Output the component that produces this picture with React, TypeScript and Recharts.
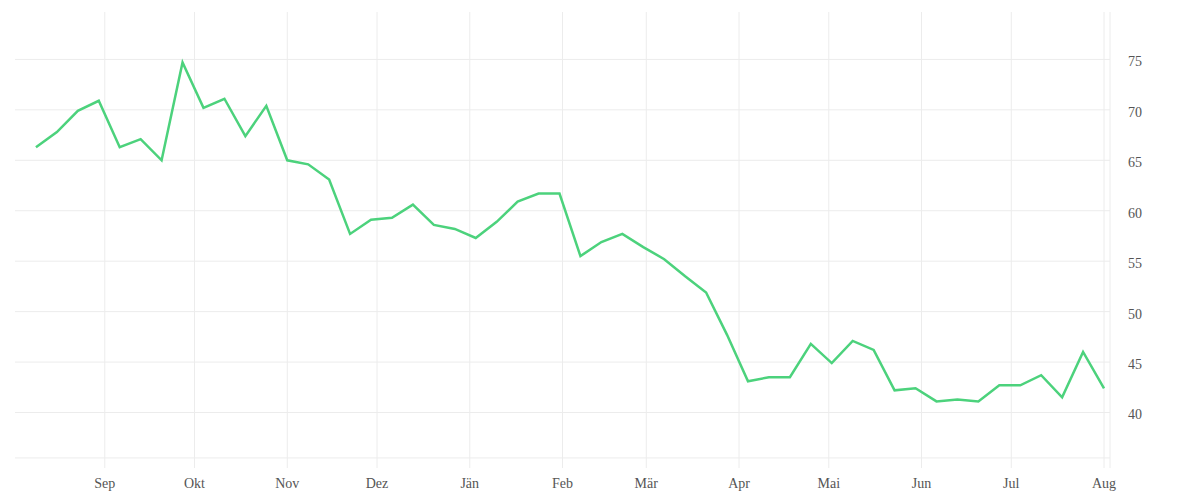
import React from "react";
import { LineChart, Line, XAxis, YAxis, CartesianGrid } from "recharts";

const weekDates = [
  "2022-08-09", "2022-08-16", "2022-08-23", "2022-08-30",
  "2022-09-06", "2022-09-13", "2022-09-20", "2022-09-27",
  "2022-10-04", "2022-10-11", "2022-10-18", "2022-10-25",
  "2022-11-01", "2022-11-08", "2022-11-15", "2022-11-22", "2022-11-29",
  "2022-12-06", "2022-12-13", "2022-12-20", "2022-12-27",
  "2023-01-03", "2023-01-10", "2023-01-17", "2023-01-24", "2023-01-31",
  "2023-02-07", "2023-02-14", "2023-02-21", "2023-02-28",
  "2023-03-07", "2023-03-14", "2023-03-21", "2023-03-28",
  "2023-04-04", "2023-04-11", "2023-04-18", "2023-04-25",
  "2023-05-02", "2023-05-09", "2023-05-16", "2023-05-23", "2023-05-30",
  "2023-06-06", "2023-06-13", "2023-06-20", "2023-06-27",
  "2023-07-04", "2023-07-11", "2023-07-18", "2023-07-25",
  "2023-08-01",
];

const seriesValues = [
  66.3, 67.8, 69.9, 70.9, 66.3, 67.1, 65.0, 74.7, 70.2, 71.1, 67.4, 70.4,
  65.0, 64.6, 63.1, 57.7, 59.1, 59.3, 60.6, 58.6, 58.2, 57.3, 58.9, 60.9,
  61.7, 61.7, 55.5, 56.9, 57.7, 56.4, 55.2, 53.5, 51.9, 47.7, 43.1, 43.5,
  43.5, 46.8, 44.9, 47.1, 46.2, 42.2, 42.4, 41.1, 41.3, 41.1, 42.7, 42.7,
  43.7, 41.5, 46.0, 42.4,
];

const monthTickDates = [
  "2022-09-01", "2022-10-01", "2022-11-01", "2022-12-01", "2023-01-01", "2023-02-01",
  "2023-03-01", "2023-04-01", "2023-05-01", "2023-06-01", "2023-07-01", "2023-08-01",
];
const monthLabels = ["Sep", "Okt", "Nov", "Dez", "Jän", "Feb", "Mär", "Apr", "Mai", "Jun", "Jul", "Aug"];

const yTicks = [40, 45, 50, 55, 60, 65, 70, 75];
const yDomain = [34.5, 79.7];
const xDomainDates = ["2022-08-02", "2023-08-03"];
const baselineValue = 35.5;

const toTime = (s: string) => Date.parse(s + "T00:00:00Z");

const data = weekDates.map((d, i) => ({ t: toTime(d), v: seriesValues[i] }));
const monthTicks = monthTickDates.map(toTime);
const xDomain = xDomainDates.map(toTime);
const gridYValues = [baselineValue, ...yTicks];

const formatMonth = (t: number) => {
  const idx = monthTicks.indexOf(t);
  return idx >= 0 ? monthLabels[idx] : "";
};

const gridColor = "#ececec";
const textStyle = { fontFamily: "Liberation Serif", fontSize: 14, fill: "#555" };

export default function App() {
  return (
    <div style={{ width: 1184, height: 492 }}>
      <LineChart
        width={1184}
        height={492}
        data={data}
        margin={{ top: 4, right: 0, bottom: 0, left: 7 }}
      >
        <CartesianGrid
          stroke={gridColor}
          strokeWidth={1}
          horizontalValues={gridYValues}
          verticalValues={monthTicks}
        />
        <XAxis
          dataKey="t"
          type="number"
          domain={xDomain}
          allowDataOverflow
          ticks={monthTicks}
          tickFormatter={formatMonth}
          axisLine={false}
          tickLine={false}
          tickSize={0}
          tickMargin={10}
          height={32}
          tick={textStyle}
        />
        <YAxis
          orientation="right"
          type="number"
          domain={yDomain}
          allowDataOverflow
          ticks={yTicks}
          axisLine={{ stroke: gridColor }}
          tickLine={false}
          tickSize={0}
          tickMargin={18}
          width={82}
          tick={{ ...textStyle, dy: 2 }}
        />
        <Line
          type="linear"
          dataKey="v"
          stroke="#4cd27c"
          strokeWidth={2.5}
          dot={false}
          isAnimationActive={false}
        />
      </LineChart>
    </div>
  );
}
